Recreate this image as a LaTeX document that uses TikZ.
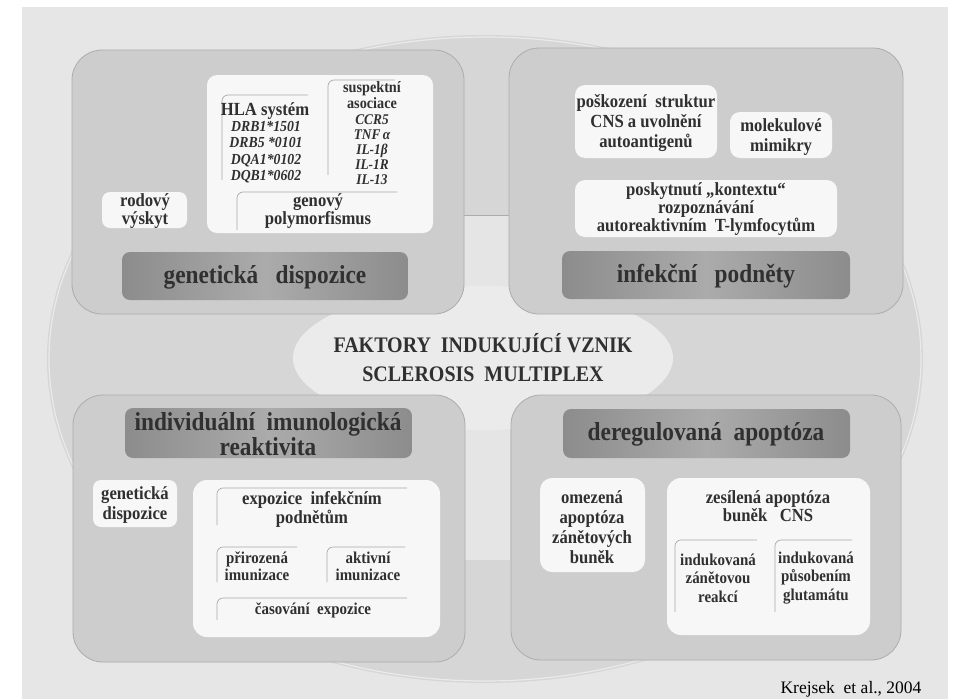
\documentclass[tikz,border=0pt]{standalone}
\usepackage{fontspec}
\setmainfont[FakeStretch=0.9]{Liberation Serif}
\newfontfamily\citefont{Liberation Serif}
\definecolor{bgc}{HTML}{E6E6E6}
\definecolor{ellc}{HTML}{D6D6D6}
\definecolor{ellrim}{HTML}{EAEAEA}
\definecolor{bandc}{HTML}{E5E5E5}
\definecolor{cenc}{HTML}{EBEBEB}
\definecolor{quadc}{HTML}{CDCDCD}
\definecolor{quadline}{HTML}{ACACAC}
\definecolor{boxw}{HTML}{F7F7F7}
\definecolor{barA}{HTML}{8C8C8C}
\definecolor{barB}{HTML}{ABABAB}
\definecolor{brkc}{HTML}{A8A8A8}
\definecolor{txtc}{HTML}{303030}
\begin{document}
\begin{tikzpicture}[x=1pt,y=-1pt,
  quad/.style={fill=quadc, draw=quadline, line width=0.8pt, rounded corners=30pt},
  wbox/.style={fill=boxw, rounded corners=10pt},
  bar/.style={rounded corners=8pt, left color=barA, right color=barA, middle color=barB},
  brk/.style={draw=brkc, line width=0.7pt, rounded corners=6pt},
  body/.style={align=center, text=txtc, inner sep=0pt, font=\bfseries\fontsize{18.5}{#1}\selectfont},
  body/.default=20,
  small/.style={align=center, text=txtc, inner sep=0pt, font=\bfseries\fontsize{16.6}{#1}\selectfont},
  small/.default=18,
  gene/.style={align=center, text=txtc, inner sep=0pt, font=\bfseries\itshape\fontsize{15.3}{16.5}\selectfont},
  title/.style={align=center, text=txtc, inner sep=0pt, font=\bfseries\fontsize{25.9}{25}\selectfont},
  central/.style={align=center, text=txtc, inner sep=0pt, font=\bfseries\fontsize{22.2}{29}\selectfont}
]
\fill[white] (0,0) rectangle (955,699);
\useasboundingbox (0,0) rectangle (955,699);
\fill[bgc] (22,7) rectangle (948,699);

% big ellipse, light band, central ellipse
\fill[ellc] (485,359) ellipse [x radius=438pt, y radius=324pt];
\draw[ellrim, line width=1.2pt] (485,359) ellipse [x radius=436pt, y radius=322pt];
\fill[bandc] (464,215) rectangle (510,560);
\draw[quadline, line width=0.6pt] (464,215) -- (510,215);
\fill[cenc] (483,358) ellipse [x radius=190pt, y radius=72pt];

% quadrant boxes
\path[quad] (72,50) rectangle (464,314);
\path[quad] (509,48) rectangle (903,314);
\path[quad] (73,395) rectangle (465,662);
\path[quad] (511,395) rectangle (901,660);

% ---------- top left: genetic disposition ----------
\path[wbox] (207,75) rectangle (433,233);
\path[wbox, rounded corners=8pt] (102,192) rectangle (187,228);
\draw[brk] (222,180) -- (222,95) -- (308,95);
\draw[brk] (328,175) -- (328,80) -- (395,80);
\draw[brk] (237,230) -- (237,192) -- (397,192);
\node[body=15] (rod) at (145,211) {rodový\\výskyt};
\node[body] (hla) at (265,111) {HLA systém};
\node[gene] (hlag) at (266,152) {DRB1*1501\\DRB5 *0101\\DQA1*0102\\DQB1*0602};
\node[align=center, text=txtc, inner sep=0pt, font=\bfseries\fontsize{15.8}{13}\selectfont] (sus) at (372,95) {suspektní\\asociace};
\node[gene, font=\bfseries\itshape\fontsize{14.8}{15}\selectfont] (susg) at (372,150) {CCR5\\TNF\,α\\IL-1β\\IL-1R\\IL-13};
\node[body=15] (gen) at (318,211) {genový\\polymorfismus};
\path[bar] (122,252) rectangle (408,300);
\node[title] (t1) at (265,277) {genetická\ \ \ dispozice};

% ---------- top right: infectious stimuli ----------
\path[wbox] (575,85) rectangle (717,158);
\path[wbox] (730,112) rectangle (832,158);
\path[wbox] (575,180) rectangle (837,237);
\node[body] (pos) at (646,123) {poškození\ \ struktur\\CNS a uvolnění\\autoantigenů};
\node[body] (mol) at (781,137) {molekulové\\mimikry};
\node[body=15.5] (ctx) at (706,209) {poskytnutí „kontextu“\\rozpoznávání\\autoreaktivním\ \ T-lymfocytům};
\path[bar] (562,251) rectangle (850,299);
\node[title] (t2) at (706,276) {infekční\ \ \ podněty};

% ---------- bottom left: individual immune reactivity ----------
\path[bar] (125,408) rectangle (412,458);
\node[title] (t3) at (268,434) {individuální\ \ imunologická\\reaktivita};
\path[wbox, rounded corners=8pt] (93,480) rectangle (177,527);
\node[body] (gd) at (135,505) {genetická\\dispozice};
\path[wbox, rounded corners=14pt] (193,480) rectangle (440,637);
\draw[brk] (217,525) -- (217,488) -- (407,488);
\draw[brk] (217,582) -- (217,547) -- (297,547);
\draw[brk] (327,582) -- (327,547) -- (405,547);
\draw[brk] (217,620) -- (217,598) -- (407,598);
\node[body=19] (exp) at (312,509) {expozice\ \ infekčním\\podnětům};
\node[small=17] (pri) at (257,566) {přirozená\\imunizace};
\node[small=17] (akt) at (368,566) {aktivní\\imunizace};
\node[small] (cas) at (313,610) {časování\ \ expozice};

% ---------- bottom right: deregulated apoptosis ----------
\path[bar] (563,409) rectangle (850,458);
\node[title] (t4) at (706,434) {deregulovaná\ \ apoptóza};
\path[wbox, rounded corners=12pt] (540,478) rectangle (645,572);
\node[body] (ome) at (592,527) {omezená\\apoptóza\\zánětových\\buněk};
\path[wbox, rounded corners=14pt] (667,478) rectangle (870,635);
\node[body=18] (zes) at (768,506) {zesílená apoptóza\\buněk\ \ \ CNS};
\draw[brk] (675,612) -- (675,540) -- (757,540);
\draw[brk] (775,612) -- (775,540) -- (852,540);
\node[small=18.5] (iz) at (718,578) {indukovaná\\zánětovou\\reakcí};
\node[small=18.5] (ig) at (816,578) {indukovaná\\působením\\glutamátu};

% ---------- centre ----------
\node[central] (ctr) at (483,358) {FAKTORY\ \ INDUKUJÍCÍ VZNIK\\SCLEROSIS\ \ MULTIPLEX};

% citation
\node[inner sep=0pt, text=black, font=\citefont\fontsize{17.5}{20}\selectfont] (cit) at (851,689) {Krejsek\ \ et al., 2004};
\end{tikzpicture}
\end{document}
